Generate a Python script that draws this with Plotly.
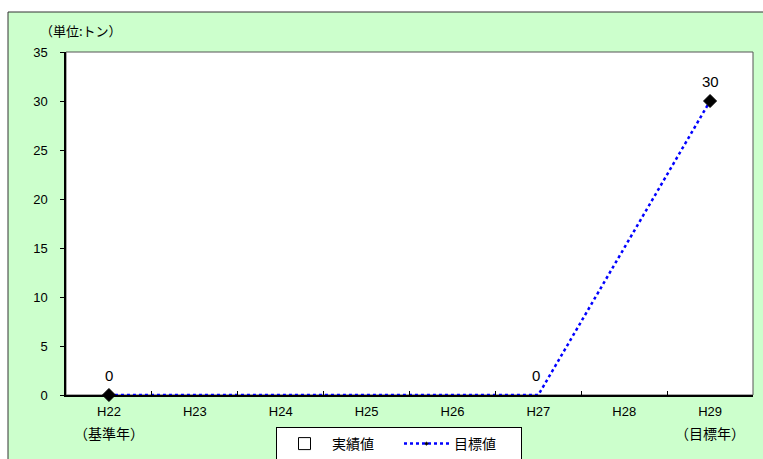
import plotly.graph_objects as go

categories = ["H22", "H23", "H24", "H25", "H26", "H27", "H28", "H29"]
sub_labels = {"H22": "（基準年）", "H29": "（目標年）"}
actual_values = [None, None, None, None, None, None, None, None]
target_values = [0, None, None, None, None, 0, None, 30]
target_labels = ["0", "", "", "", "", "0", "", "30"]
marker_sizes = [10, 0, 0, 0, 0, 0, 0, 10]

W, H = 763, 459
L, R, T, B = 66, 10, 52, 64
pw, ph = W - L - R, H - T - B

def px_x(p):
    return (p - L) / pw

def px_y(p):
    return (H - B - p) / ph

font = "Liberation Sans, Arial, Noto Sans CJK JP, sans-serif"
jfont = "Noto Sans CJK JP, sans-serif"

fig = go.Figure()
fig.add_trace(go.Bar(
    x=categories, y=actual_values, name="実績値",
    marker=dict(color="white", line=dict(color="black", width=1)),
))
fig.add_trace(go.Scatter(
    x=categories, y=target_values, name="目標値",
    mode="lines+markers", connectgaps=True,
    line=dict(color="#0000FF", width=2.5, dash="dot"),
    marker=dict(symbol="diamond", color="black", size=marker_sizes, opacity=1,
                line=dict(color="black", width=1)),
    cliponaxis=False,
))

shapes = [
    dict(type="rect", xref="paper", yref="paper", layer="below",
         x0=px_x(8), x1=px_x(775), y0=px_y(470), y1=px_y(12),
         fillcolor="#CCFFCC", line=dict(color="#333333", width=1)),
    dict(type="rect", xref="x domain", yref="y domain", layer="below",
         x0=0, x1=1, y0=0, y1=1, fillcolor="white",
         line=dict(color="#555555", width=1)),
]

annotations = [
    dict(text="（単位:トン）", xref="paper", yref="paper", x=px_x(38), y=px_y(30),
         xanchor="left", yanchor="middle", showarrow=False,
         font=dict(size=13, color="black", family=jfont)),
]
for c, s in sub_labels.items():
    annotations.append(dict(text=s, x=c, xref="x", yref="paper", y=px_y(433),
                            xanchor="center", yanchor="middle", showarrow=False,
                            font=dict(size=14, color="black", family=jfont)))
for c, v, t in zip(categories, target_values, target_labels):
    if t:
        annotations.append(dict(text=t, x=c, y=v, xref="x", yref="y",
                                xanchor="center", yanchor="bottom", yshift=9,
                                xshift=-2 if v == 0 and c != categories[0] else 0,
                                showarrow=False,
                                font=dict(size=15, color="black", family=font)))

fig.update_layout(
    width=W, height=H,
    margin=dict(l=L, r=R, t=T, b=B, autoexpand=False),
    paper_bgcolor="white", plot_bgcolor="rgba(0,0,0,0)",
    font=dict(family=font, size=13, color="black"),
    shapes=shapes, annotations=annotations,
    showlegend=True,
    legend=dict(orientation="h", x=px_x(399), xanchor="center",
                y=px_y(427), yanchor="top",
                bgcolor="white", bordercolor="black", borderwidth=1,
                font=dict(size=14, family=jfont, color="black"),
                itemwidth=45, entrywidth=62, entrywidthmode="pixels",
                tracegroupgap=0),
    xaxis=dict(type="category", range=[-0.5, 7.5], showgrid=False,
               showline=True, linecolor="black", linewidth=1.5, mirror=False,
               ticks="inside", ticklen=4, tickson="boundaries", tickcolor="black",
               ticklabelstandoff=4,
               tickfont=dict(size=13, color="black", family=font)),
    yaxis=dict(range=[0, 35], dtick=5, showgrid=False, zeroline=False,
               showline=True, linecolor="black", linewidth=1.5,
               ticks="outside", ticklen=4, tickcolor="black",
               ticklabelstandoff=10,
               tickfont=dict(size=13, color="black", family=font)),
)

fig.write_html("out.html", config={"displayModeBar": False},
               post_script="document.body.style.margin='0';document.body.style.overflow='hidden';")
